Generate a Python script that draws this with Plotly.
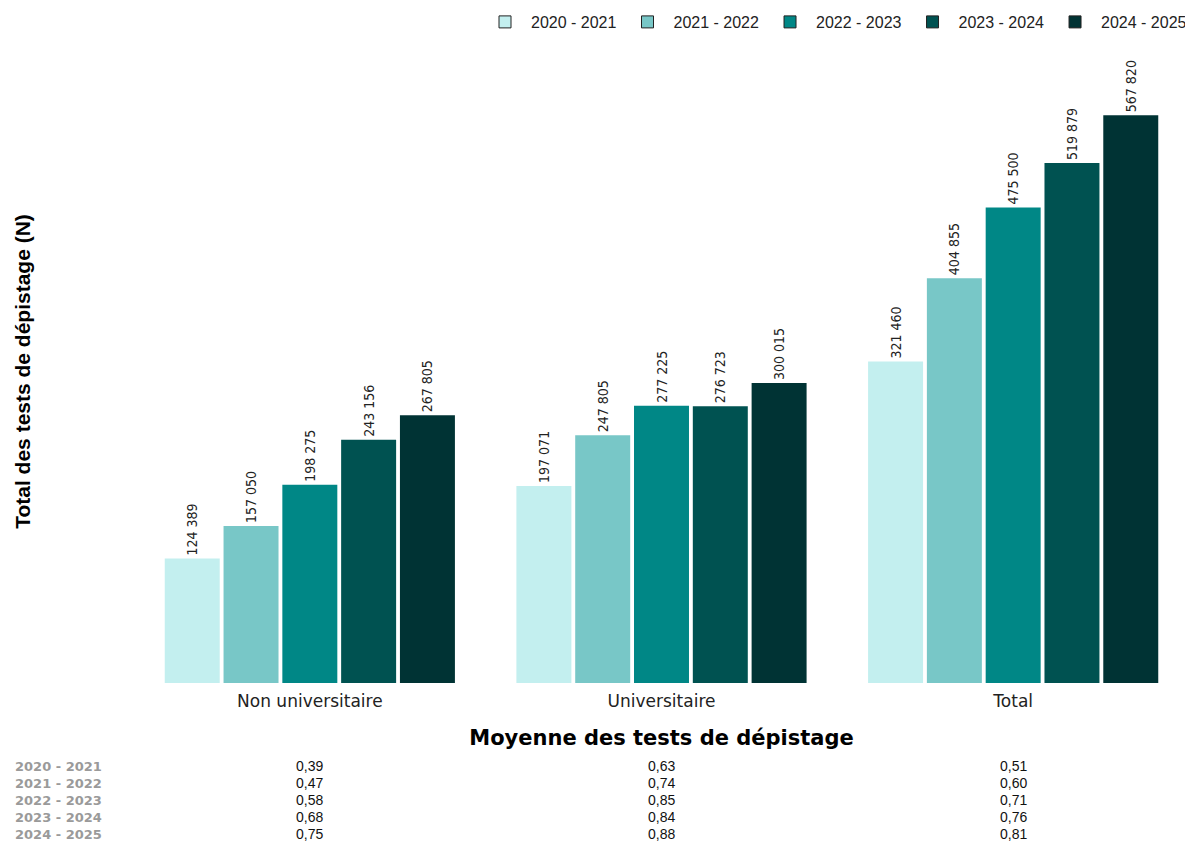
import plotly.graph_objects as go

# data
categories = ["Non universitaire", "Universitaire", "Total"]
years = ["2020 - 2021", "2021 - 2022", "2022 - 2023", "2023 - 2024", "2024 - 2025"]
colors = ["#C3EFEF", "#78C7C7", "#008786", "#005251", "#003334"]

totals = {
    "2020 - 2021": [124389, 197071, 321460],
    "2021 - 2022": [157050, 247805, 404855],
    "2022 - 2023": [198275, 277225, 475500],
    "2023 - 2024": [243156, 276723, 519879],
    "2024 - 2025": [267805, 300015, 567820],
}

moyennes = {
    "2020 - 2021": [0.39, 0.63, 0.51],
    "2021 - 2022": [0.47, 0.74, 0.60],
    "2022 - 2023": [0.58, 0.85, 0.71],
    "2023 - 2024": [0.68, 0.84, 0.76],
    "2024 - 2025": [0.75, 0.88, 0.81],
}

# the page has an 8px body margin, so the figure sits 8px in from the corner
off = 8
W, H = 1193, 844
left, top, bottom = 134 - off, 60 - off, 161 + off
paper_w = W - left          # no right margin so the legend can reach the edge
plot_w = paper_w - (4 + off)
plot_h = H - top - bottom

fig = go.Figure()

for year, col in zip(years, colors):
    fig.add_trace(go.Bar(
        x=categories, y=totals[year], name=year,
        marker=dict(color=col, line=dict(width=0)),
        texttemplate="%{y:,}", textposition="outside", textangle=-90,
        textfont=dict(family="Liberation Sans Narrow, Arial Narrow, DejaVu Sans Condensed",
                      size=14, color="#222222"),
        cliponaxis=False, showlegend=False,
    ))
    # legend entry with a dark outline around the square
    fig.add_trace(go.Scatter(
        x=[None], y=[None], mode="markers", name=year,
        marker=dict(symbol="square", size=12, color=col,
                    line=dict(color="#222222", width=1)),
    ))

# table of averages under the chart
row_y0 = 766 - off
row_step = 17
for i, year in enumerate(years):
    ypaper = (H - bottom - (row_y0 + i * row_step)) / plot_h
    fig.add_annotation(
        x=(13 - off - left) / paper_w, xref="paper", y=ypaper, yref="paper",
        text="<b>" + year + "</b>", showarrow=False, xanchor="left", yanchor="middle",
        font=dict(family="DejaVu Sans", size=13, color="#9A9A9A"),
    )
    for cat, val in zip(categories, moyennes[year]):
        fig.add_annotation(
            x=cat, xref="x", y=ypaper, yref="paper",
            text=f"{val:.2f}".replace(".", ","), showarrow=False,
            xanchor="center", yanchor="middle",
            font=dict(family="Liberation Sans, Arial", size=14, color="#111111"),
        )

fig.update_layout(
    width=W, height=H,
    margin=dict(l=left, r=0, t=top, b=bottom, autoexpand=False),
    plot_bgcolor="white", paper_bgcolor="white",
    barmode="group", bargap=0.164, bargroupgap=0.065,
    separators=", ",
    font=dict(family="Liberation Sans, Arial", color="#222222"),
    legend=dict(
        orientation="h", xanchor="left", x=(479 - off - left) / paper_w,
        yanchor="top", y=1 + (top + 3) / plot_h,
        font=dict(size=16, color="#222222"),
        itemwidth=42, traceorder="normal",
    ),
    xaxis=dict(
        domain=[0, plot_w / paper_w],
        showgrid=False, showline=False, ticks="", ticklabelstandoff=6,
        tickfont=dict(family="DejaVu Sans", size=17, color="#222222"),
        title=dict(text="<b>Moyenne des tests de dépistage</b>", standoff=20,
                   font=dict(family="DejaVu Sans", size=21, color="#000000")),
        automargin=False,
    ),
    yaxis=dict(
        range=[0, plot_h * 1000], showgrid=False, zeroline=False,
        showticklabels=False, showline=False, ticks="",
        title=dict(text="<b>Total des tests de dépistage (N)</b>", standoff=96,
                   font=dict(family="Liberation Sans, Arial", size=21, color="#000000")),
        automargin=False,
    ),
)

fig.write_html("out.html")
